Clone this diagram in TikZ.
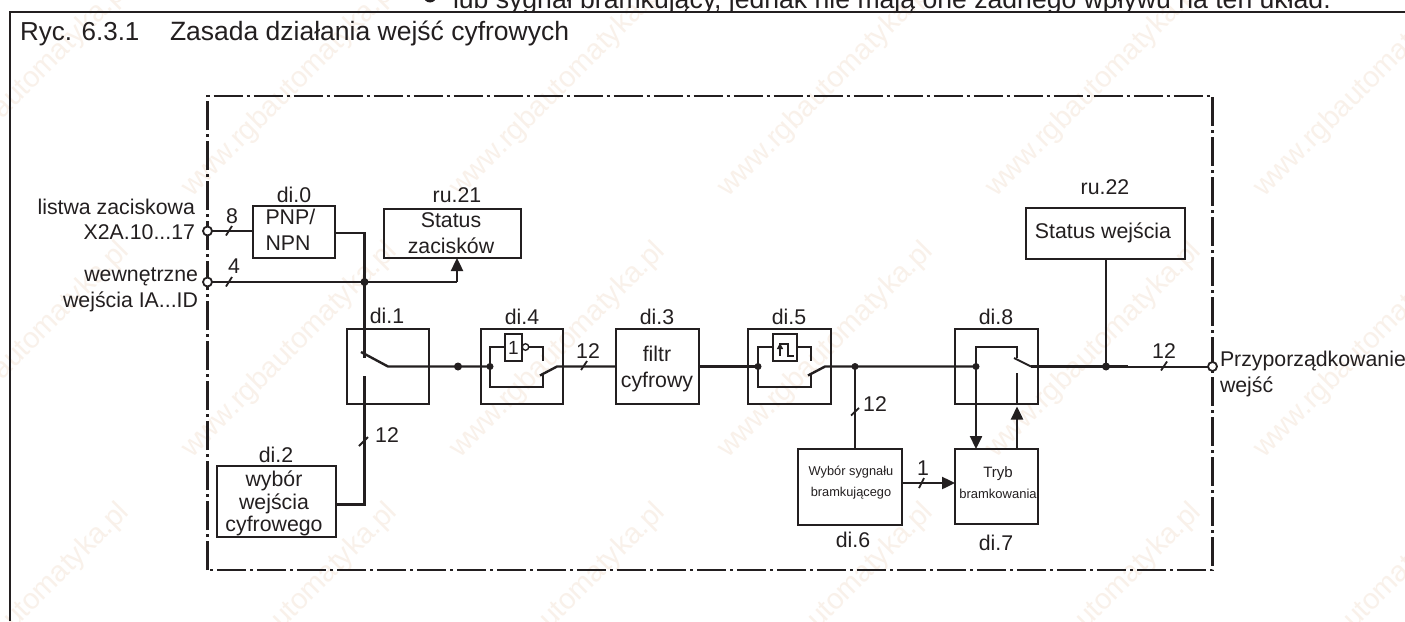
\documentclass[tikz,border=0pt]{standalone}
\usepackage{fontspec}
\setmainfont{Liberation Sans}
\usetikzlibrary{arrows.meta}
\definecolor{ink}{HTML}{231F20}
\definecolor{wmark}{HTML}{F9F1EA}
\newcommand{\fz}[1]{\fontsize{#1}{#1}\selectfont}
\tikzset{
  x=1pt,y=-1pt,
  wire/.style={draw=ink,line width=2.4pt,line cap=butt,line join=miter},
  thinwire/.style={draw=ink,line width=2pt},
  arrowwire/.style={wire,-{Triangle[length=13pt,width=12pt]}},
  box/.style={draw=ink,line width=2.4pt,inner sep=0pt,outer sep=0pt,shape=rectangle},
  lbl/.style={text=ink,inner sep=0pt,outer sep=0pt,anchor=base,font=\fz{21.3}},
  lblw/.style={lbl,anchor=base west},
  lble/.style={lbl,anchor=base east},
  dot/.style={circle,fill=ink,inner sep=0pt,outer sep=0pt,minimum size=8pt},
  sdot/.style={circle,fill=ink,inner sep=0pt,outer sep=0pt,minimum size=7pt},
  term/.style={circle,draw=ink,fill=white,line width=1.8pt,inner sep=0pt,minimum size=9pt,outer sep=0pt},
  slash/.style={draw=ink,line width=1.8pt},
  dashbox/.style={draw=ink,line width=2.2pt,dash pattern=on 29pt off 4pt on 3pt off 4pt},
  wm/.style={text=wmark,inner sep=0pt,anchor=base west,rotate=45,font=\fz{29}},
}
\begin{document}
\begin{tikzpicture}
\useasboundingbox (0,0) rectangle (1405,621);
\clip (0,0) rectangle (1405,621);
\fill[white] (0,0) rectangle (1405,621);
% watermark
\foreach \i in {-1,0,1,2,3,4}{
  \foreach \j in {0,1,2}{
    \node[wm] (wm\i\j) at ({192+268*\i},{198+261*\j}) {www.rgbautomatyka.pl};
  }
}
% text cut off by the frame
\begin{scope}
\clip (0,0) rectangle (1405,12);
\fill[ink] (430,-4) circle (6.5);
\node[lblw,font=\fz{26.6}] (toptext) at (453,8.5) {lub sygnał bramkujący, jednak nie mają one żadnego wpływu na ten układ.};
\end{scope}
% frame
\draw[draw=ink,line width=2.6pt] (10,621) -- (10,12) -- (1405,12);
\node[lblw,font=\fz{26}] (ryc) at (20,40) {Ryc. 6.3.1};
\node[lblw,font=\fz{26.5}] (title) at (170,40) {Zasada działania wejść cyfrowych};
% dash-dot box
\draw[dashbox] (207.5,570) -- (207.5,96) -- (1212.5,96) -- (1212.5,570) -- cycle;

% boxes
\node[box,minimum width=82pt,minimum height=52pt] (di0) at (294,232) {};
\node[box,minimum width=137pt,minimum height=49pt] (ru21) at (452.5,233.5) {};
\node[box,minimum width=82pt,minimum height=75pt] (di1) at (388,366.5) {};
\node[box,minimum width=119pt,minimum height=71pt] (di2) at (276.5,501.5) {};
\node[box,minimum width=82pt,minimum height=75pt] (di4) at (522,366.5) {};
\node[box,minimum width=83pt,minimum height=75pt] (di3) at (657.5,366.5) {};
\node[box,minimum width=83pt,minimum height=75pt] (di5) at (789.5,366.5) {};
\node[box,minimum width=104pt,minimum height=76pt] (di6) at (850,487) {};
\node[box,minimum width=83pt,minimum height=75pt] (di7) at (996.5,486.5) {};
\node[box,minimum width=83pt,minimum height=75pt] (di8) at (996.5,366.5) {};
\node[box,minimum width=159pt,minimum height=51pt] (ru22) at (1105.5,233.5) {};
\node[box,line width=1.8pt,minimum width=17pt,minimum height=27pt] (notg) at (513.5,347.5) {};
\node[box,line width=1.8pt,minimum width=24pt,minimum height=27pt] (trig) at (785,347.5) {};

% named points
\coordinate (t1) at (207.5,231);
\coordinate (t2) at (207.5,282);
\coordinate (t3) at (1212.5,366.5);
\coordinate (j1) at (364.5,282);
\coordinate (a1) at (364.5,358);
\coordinate (a2) at (364.5,376);
\coordinate (b1) at (361,352);
\coordinate (b2) at (388,366.5);
\coordinate (j2) at (458,366.5);
\coordinate (j4) at (490,366.5);
\coordinate (c41) at (543,361);
\coordinate (c42) at (543,375);
\coordinate (b4) at (557,366.5);
\coordinate (j5) at (758,366.5);
\coordinate (c51) at (811,361);
\coordinate (c52) at (811,375);
\coordinate (b5) at (825,366.5);
\coordinate (j6) at (855,366.5);
\coordinate (j8) at (976,366.5);
\coordinate (c81) at (1017,358);
\coordinate (c82) at (1017,373);
\coordinate (b8) at (1031,366.5);
\coordinate (j9) at (1106,366.5);
\coordinate (thin) at (1128,366.5);

% wires
\draw[wire] (t1) -- (di0.west |- t1);
\draw[wire] (t2) -- (j1) -- (457,282) coordinate (ru21c);
\draw[arrowwire] (ru21c) -- (ru21c |- ru21.south);
\draw[wire] (di0.east |- 0,233) -- (364.5,233) -- (j1) -- (a1);
\draw[wire] (b1) -- (b2) -- (j2) -- (j4);
\draw[wire] (di2.east |- 0,504.5) -- (364.5,504.5) -- (a2);
% di.4
\draw[thinwire] (j4) -- (490,346.5) -- (notg.west |- 0,346.5);
\draw[thinwire] (notg.east |- 0,347) -- (c41 |- 0,347) -- (c41);
\draw[thinwire] (j4) -- (490,386.5) -- (c42 |- 0,386.5) -- (c42);
\draw[wire] (540,375.5) -- (b4) -- (di3.west |- b4);
% di.3 to di.5
\draw[wire] (di3.east |- j5) -- (j5);
\draw[thinwire] (j5) -- (758,346.5) -- (trig.west |- 0,346.5);
\draw[thinwire] (trig.east |- 0,347) -- (c51 |- 0,347) -- (c51);
\draw[thinwire] (j5) -- (758,386.5) -- (c52 |- 0,386.5) -- (c52);
\draw[wire] (808,375.5) -- (b5) -- (j6) -- (j8);
\draw[wire] (j6) -- (j6 |- di6.north);
% di.8
\draw[thinwire] (j8) -- (976,347) -- (1017,347) -- (c81);
\draw[thinwire] (1014,358) -- (b8);
\draw[wire] (b8) -- (thin);
\draw[thinwire] (thin) -- (t3);
\draw[wire] (j9) -- (j9 |- ru22.south);
\draw[arrowwire] (j8) -- (j8 |- di7.north);
\draw[arrowwire] (c82 |- di7.north) -- (1017,406.5);
\draw[wire] (1017,405) -- (c82);
\draw[arrowwire] (di6.east |- 0,483) -- (di7.west |- 0,483);

% pulse glyph in di.5
\draw[draw=ink,line width=1.3pt] (780,350) -- (780,344) -- (788,344) -- (788,356) -- (794,356);
\draw[draw=ink,line width=1.3pt,-{Triangle[length=6pt,width=6pt]}] (780,356) -- (780,343);
% NOT bubble
\node[circle,draw=ink,fill=white,line width=1.4pt,inner sep=0pt,minimum size=6.5pt] (bub) at (525.5,347) {};

% bus slashes
\draw[slash] (226,235.5) -- (232,226);
\draw[slash] (226,286.5) -- (232,277);
\draw[slash] (359,446) -- (368,437);
\draw[slash] (581,370) -- (587,361);
\draw[slash] (851,415.5) -- (859,408);
\draw[slash] (919,488) -- (924,478);
\draw[slash] (1161,370.5) -- (1167,361.5);

% dots and terminals
\node[dot] (dj1) at (j1) {};
\node[dot] (dj2) at (j2) {};
\node[sdot] (dj4) at (j4) {};
\node[sdot] (dj5) at (j5) {};
\node[sdot] (dj6) at (j6) {};
\node[sdot] (dj8) at (j8) {};
\node[dot] (dj9) at (j9) {};
\node[term] (dt1) at (t1) {};
\node[term] (dt2) at (t2) {};
\node[term] (dt3) at (t3) {};

% labels
\node[lble] (l1) at (195,214) {listwa zaciskowa};
\node[lble] (l2) at (195,239) {X2A.10...17};
\node[lble] (l3) at (198,281) {wewnętrzne};
\node[lble] (l4) at (198,307) {wejścia IA...ID};
\node[lbl] (n8) at (232,223) {8};
\node[lbl] (n4) at (234,273) {4};
\node[lbl] (ldi0) at (294,202) {di.0};
\node[lblw] (pnp) at (265.5,224) {PNP/};
\node[lblw] (npn) at (265.5,250) {NPN};
\node[lbl] (lru21) at (457,202) {ru.21};
\node[lbl] (st1) at (451,227) {Status};
\node[lbl] (st2) at (451,253) {zacisków};
\node[lbl] (ldi1) at (387,323) {di.1};
\node[lbl] (ldi2) at (276,462) {di.2};
\node[lbl] (w1) at (274,486) {wybór};
\node[lbl] (w2) at (274,509) {wejścia};
\node[lbl] (w3) at (274,531) {cyfrowego};
\node[lbl] (n12a) at (387,442) {12};
\node[lbl] (ldi4) at (522,324) {di.4};
\node[lbl,font=\fz{19}] (one) at (513.5,354) {1};
\node[lbl] (n12b) at (588,358) {12};
\node[lbl] (ldi3) at (657,324) {di.3};
\node[lbl] (f1) at (657,361) {filtr};
\node[lbl] (f2) at (657,387) {cyfrowy};
\node[lbl] (ldi5) at (789,324) {di.5};
\node[lbl] (n12c) at (875,411) {12};
\node[lbl,font=\fz{12.8}] (g1) at (851,475) {Wybór sygnału};
\node[lbl,font=\fz{12.8}] (g2) at (851,496) {bramkującego};
\node[lbl] (ldi6) at (853,547) {di.6};
\node[lbl] (n1) at (923,475) {1};
\node[lbl,font=\fz{15}] (tr1) at (998,477) {Tryb};
\node[lbl,font=\fz{13}] (tr2) at (998,498) {bramkowania};
\node[lbl] (ldi7) at (996,550) {di.7};
\node[lbl] (ldi8) at (996,324) {di.8};
\node[lbl] (lru22) at (1105,194) {ru.22};
\node[lbl] (sw) at (1103,238) {Status wejścia};
\node[lbl] (n12d) at (1164,358) {12};
\node[lblw] (p1) at (1220,366) {Przyporządkowanie};
\node[lblw] (p2) at (1220,392) {wejść};
\end{tikzpicture}
\end{document}
